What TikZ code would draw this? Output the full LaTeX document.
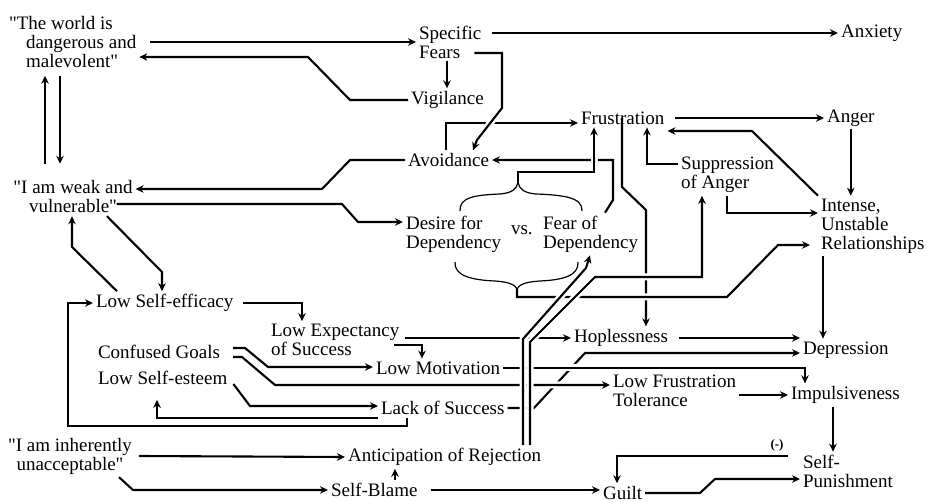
\documentclass[tikz,border=0pt]{standalone}
\usepackage{fontspec}
\setmainfont{Liberation Serif}
\usepackage{tikz}
\usetikzlibrary{arrows.meta}

\begin{document}
\begin{tikzpicture}[x=1pt,y=-1pt,>={Stealth[length=8pt,width=7.5pt]},line width=2.1pt,
	lbl/.style={anchor=west,inner sep=2pt,align=left,font=\fontsize{19}{19}\selectfont},
	over/.style={preaction={draw=white,line width=7pt,-}}]
	\useasboundingbox (0,0) rectangle (930,502);
	
	\foreach \n/\x/\y/\t in {anx/838/33/Anxiety,vig/408/100/Vigilance,frus/578/118/Frustration,
		anger/824/118/Anger,avoid/405/160/Avoidance,vs/508/230/vs.,eff/93/303/Low Self-efficacy,
		goals/95/352/Confused Goals,motiv/373/368/Low Motivation,esteem/95/378/Low Self-esteem,
		lack/378/408/Lack of Success,hope/571/338/Hoplessness,depr/800/350/Depression,
		impul/788/395/Impulsiveness,antic/345/457/Anticipation of Rejection,
		blame/328/490/Self-Blame,guilt/600/493/Guilt}{
		\node[lbl] (\n) at (\x,\y) {\t};
	}
	
	\node[lbl] (world) at (23,42) {\hspace*{-17pt}\textquotedbl The world is\\dangerous and\\malevolent\textquotedbl};
	\node[lbl,align=center,anchor=center] (weak) at (73,197) {\textquotedbl I am weak and\\vulnerable\textquotedbl};
	\node[lbl,align=center,anchor=center] (inher) at (70,456) {\textquotedbl I am inherently\\unacceptable\textquotedbl};
	\node[lbl] (fears) at (416,42) {Specific\\Fears};
	\node[lbl] (supp) at (678,175) {Suppression\\of Anger};
	\node[lbl] (desire) at (403,234) {Desire for\\Dependency};
	\node[lbl] (fear) at (540,234) {Fear of\\Dependency};
	\node[lbl] (rel) at (818,226) {Intense,\\Unstable\\Relationships};
	\node[lbl] (expct) at (268,340) {Low Expectancy\\of Success};
	\node[lbl] (lft) at (610,391) {Low Frustration\\Tolerance};
	\node[lbl] (punish) at (800,471) {Self-\\Punishment};
	\node[font=\fontsize{13}{13}\selectfont\bfseries,inner sep=1pt] (neg) at (777,445) {(-)};
	
	\coordinate (btop) at (518,182);
	\coordinate (bbot) at (517,289);
	
	% fears and vigilance
	\draw[->] ([xshift=11pt]world.east) -- (fears.west);
	\draw[->] ([xshift=8pt,yshift=9pt]fears.east) -- (anx.west);
	\draw[->] (fears.south -| 447,0) -- (vig.north -| 447,0);
	\draw[->] (vig.west) -- (350,100) -- (308,57) -- (world.east |- 0,57);
	\draw[->] (avoid.north -| 446,0) -- (446,123) -- (frus.west |- 0,123);
	\draw[->,over] ([shift={(-10,11)}]fears.east) -- (502,53) -- (502,108) -- (477,140) -- (avoid.north -| 473,0);
	
	\draw[->] ([yshift=14pt]weak.north -| 45,0) -- ([yshift=-5pt]world.south -| 45,0);
	\draw[->] ([yshift=-5pt]world.south -| 60,0) -- ([yshift=14pt]weak.north -| 60,0);
	\draw[->] (avoid.west) -- (350,160) -- (322,189) -- (weak.east |- 0,189);
	\draw[->] ([shift={(-19,7)}]weak.east) -- (342,204) -- (358,222) -- (desire.west |- 0,222);
	
	% frustration and anger
	\draw[->] ([xshift=8pt]frus.east) -- (anger.west);
	\draw[->] (rel.north west) -- (752,131) -- (frus.east |- 0,131);
	\draw[->] (anger.south) -- (anger.south |- rel.north);
	\draw[->] (supp.west |- 0,164) -- (647,164) -- (frus.south -| 647,0);
	\draw[->] (supp.south -| 727,0) -- (727,213) -- (rel.west |- 0,213);
	\draw[->] (frus.center -| 622,0) -- (622,187) -- (646,210) -- (hope.north -| 646,0);
	\draw[->] (fear.north -| 605,0) -- (613,200) -- (613,160) -- (avoid.east);
	\draw[->,over] (btop) -- (btop |- 0,172) -- (594,172) -- (frus.south -| 594,0);
	
	% left column
	\draw[->] (weak.south -| 107,0) -- (162,272) -- (eff.north -| 162,0);
	\draw[->] (eff.north -| 117,0) -- (72,247) -- (weak.south -| 72,0);
	\draw[->] ([xshift=7pt]eff.east) -- (302,303) -- (expct.north -| 302,0);
	\draw[->] (lack.south -| 407,0) -- (407,426) -- (68,426) -- (68,303) -- (eff.west);
	\draw[->] ([shift={(-8,5)}]expct.east) -- (422,345) -- (motiv.north -| 422,0);
	\draw[->] ([shift={(10,-4)}]goals.east) -- (245,348) -- (268,367) -- (motiv.west |- 0,367);
	\draw[->] ([shift={(3,6)}]esteem.east) -- (250,406) -- (lack.west |- 0,406);
	\draw[->] (lack.south west) -- (157,0 |- lack.south west) -- ([yshift=-12pt]esteem.south -| 157,0);
	
	% right part
	\draw[->] (lack.east) -- (534,408) -- (585,353) -- (depr.west |- 0,353);
	\draw[->,over] (motiv.east) -- (805,368) -- (impul.north -| 805,0);
	\draw[->,over] ([shift={(10,5)}]goals.east) -- (242,357) -- (275,385) -- (lft.west |- 0,385);
	\draw[->] ([shift={(3,-2)}]expct.east) -- (hope.west);
	\draw[->] ([xshift=8pt]hope.east) -- (depr.west |- 0,338);
	\draw[->] (rel.south -| 823,0) -- (depr.north -| 823,0);
	\draw[->] (lft.east |- impul.west) -- (impul.west);
	\draw[->] (impul.south -| 833,0) -- (punish.north -| 833,0);
	\draw[->] ([shift={(-12,-15)}]punish.west) -- (617,456) -- (guilt.north -| 617,0);
	\draw[->] (guilt.east) -- (700,493) -- (715,479) -- (punish.west |- 0,479);
	\draw[->,over] (bbot) -- (bbot |- 0,297) -- (727,297) -- (778,245) -- ([xshift=-8pt]rel.west |- 0,245);
	
	% bottom row
	\draw[->] ([xshift=4pt]inher.east) -- (antic.west);
	\draw[->] ([xshift=-16pt]inher.south east) -- (133,490) -- (blame.west);
	\draw[->] (blame.north -| 395,0) -- (antic.south -| 395,0);
	\draw[->] ([xshift=10pt]blame.east) -- (guilt.west |- blame.east);
	
	% double line from anticipation of rejection
	\draw[->,over] (antic.north -| 523,0) -- (523,339) -- (586,268) -- (fear.south -| 590,0);
	\draw[->,over] (antic.north -| 530,0) -- (530,342) -- (595,277) -- (702,277) -- (supp.south -| 702,0);
	
	% braces round the conflict
	\draw[line width=1.2pt] (460,211) .. controls (459,197) and (476,195) .. (500,194)
		.. controls (512,193) and (517,189) .. (btop);
	\draw[line width=1.2pt] (btop) .. controls (519,189) and (524,193) .. (536,194)
		.. controls (562,195) and (583,197) .. (582,211);
	\draw[line width=1.2pt] (455,262) .. controls (454,276) and (472,280) .. (495,281)
		.. controls (510,282) and (515,285) .. (bbot);
	\draw[line width=1.2pt] (bbot) .. controls (519,285) and (524,282) .. (540,281)
		.. controls (562,280) and (579,276) .. (578,262);
\end{tikzpicture}
\end{document}
